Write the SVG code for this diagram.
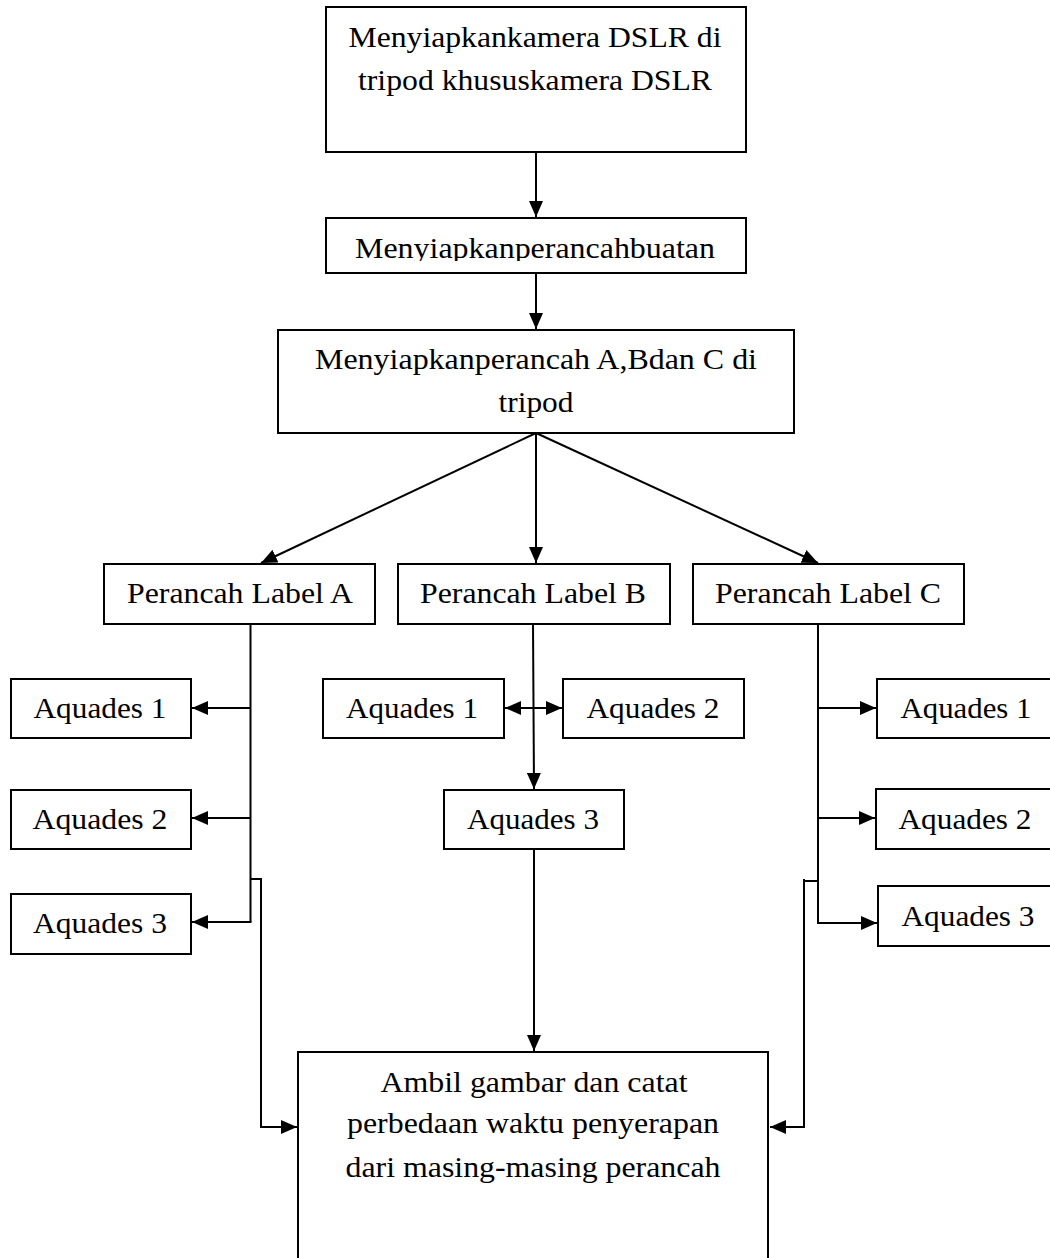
<svg xmlns="http://www.w3.org/2000/svg" width="1050" height="1258" viewBox="0 0 1050 1258" font-family="Liberation Serif, Times New Roman, serif">
<style>
.box{fill:#fff;stroke:#000;stroke-width:2}
.t{font-family:'Liberation Serif',Tinos,'Times New Roman',Times,serif;font-size:29px;fill:#000;text-anchor:middle}
.c{fill:none;stroke:#000;stroke-width:2}
</style>
<defs>
<marker id="ah" markerUnits="userSpaceOnUse" markerWidth="16" markerHeight="14" refX="16" refY="7" orient="auto">
<path d="M0,0 L16,7 L0,14 z" fill="#000"/>
</marker>
<clipPath id="clip2"><rect x="326" y="218" width="420" height="43"/></clipPath>
</defs>
<rect width="1050" height="1258" fill="#fff"/>
<g id="connectors">
<path class="c" d="M536,153 V217" marker-end="url(#ah)"/>
<path class="c" d="M536,273 V329" marker-end="url(#ah)"/>
<path class="c" d="M536,433 L261,563" marker-end="url(#ah)"/>
<path class="c" d="M536,433 V563" marker-end="url(#ah)"/>
<path class="c" d="M536,433 L818,563" marker-end="url(#ah)"/>
<path class="c" d="M250.5,624 V922"/>
<path class="c" d="M250.5,708 H192" marker-end="url(#ah)"/>
<path class="c" d="M250.5,818 H192" marker-end="url(#ah)"/>
<path class="c" d="M251.5,922 H192" marker-end="url(#ah)"/>
<path class="c" d="M250.5,879 H261 V1127 H297" marker-end="url(#ah)"/>
<path class="c" d="M533,624 L534,789" marker-end="url(#ah)"/>
<path class="c" d="M533,708 H505" marker-end="url(#ah)"/>
<path class="c" d="M533,708 H562" marker-end="url(#ah)"/>
<path class="c" d="M534,849 V1051" marker-end="url(#ah)"/>
<path class="c" d="M818,624 V923 H877" marker-end="url(#ah)"/>
<path class="c" d="M818,708 H876" marker-end="url(#ah)"/>
<path class="c" d="M818,818 H875" marker-end="url(#ah)"/>
<path class="c" d="M818,881 H804"/>
<path class="c" d="M804,879 V1127 H770" marker-end="url(#ah)"/>
</g>
<g id="n1">
<rect class="box" x="326" y="7" width="420" height="145"/>
<text class="t" x="535" y="47" textLength="373" lengthAdjust="spacingAndGlyphs">Menyiapkankamera DSLR di</text>
<text class="t" x="535" y="90" textLength="354" lengthAdjust="spacingAndGlyphs">tripod khususkamera DSLR</text>
</g>
<g id="n2">
<rect class="box" x="326" y="218" width="420" height="55"/>
<text class="t" x="535" y="258" textLength="360" lengthAdjust="spacingAndGlyphs" clip-path="url(#clip2)">Menyiapkanperancahbuatan</text>
</g>
<g id="n3">
<rect class="box" x="278" y="330" width="516" height="103"/>
<text class="t" x="536" y="369" textLength="442" lengthAdjust="spacingAndGlyphs">Menyiapkanperancah A,Bdan C di</text>
<text class="t" x="536" y="412" textLength="75" lengthAdjust="spacingAndGlyphs">tripod</text>
</g>
<g id="nA">
<rect class="box" x="104" y="564" width="271" height="60"/>
<text class="t" x="240" y="603" textLength="226" lengthAdjust="spacingAndGlyphs">Perancah Label A</text>
</g>
<g id="nB">
<rect class="box" x="398" y="564" width="272" height="60"/>
<text class="t" x="533" y="603" textLength="226" lengthAdjust="spacingAndGlyphs">Perancah Label B</text>
</g>
<g id="nC">
<rect class="box" x="693" y="564" width="271" height="60"/>
<text class="t" x="828" y="603" textLength="226" lengthAdjust="spacingAndGlyphs">Perancah Label C</text>
</g>
<g id="nA1">
<rect class="box" x="11" y="679" width="180" height="59"/>
<text class="t" x="100" y="718" textLength="133" lengthAdjust="spacingAndGlyphs">Aquades 1</text>
</g>
<g id="nA2">
<rect class="box" x="11" y="790" width="180" height="59"/>
<text class="t" x="100" y="829" textLength="135" lengthAdjust="spacingAndGlyphs">Aquades 2</text>
</g>
<g id="nA3">
<rect class="box" x="11" y="894" width="180" height="60"/>
<text class="t" x="100" y="933" textLength="134" lengthAdjust="spacingAndGlyphs">Aquades 3</text>
</g>
<g id="nB1">
<rect class="box" x="323" y="679" width="181" height="59"/>
<text class="t" x="412" y="718" textLength="132" lengthAdjust="spacingAndGlyphs">Aquades 1</text>
</g>
<g id="nB2">
<rect class="box" x="563" y="679" width="181" height="59"/>
<text class="t" x="653" y="718" textLength="133" lengthAdjust="spacingAndGlyphs">Aquades 2</text>
</g>
<g id="nB3">
<rect class="box" x="444" y="790" width="180" height="59"/>
<text class="t" x="533" y="829" textLength="132" lengthAdjust="spacingAndGlyphs">Aquades 3</text>
</g>
<g id="nC1">
<rect class="box" x="877" y="679" width="185" height="59"/>
<text class="t" x="966" y="718" textLength="131" lengthAdjust="spacingAndGlyphs">Aquades 1</text>
</g>
<g id="nC2">
<rect class="box" x="876" y="789" width="185" height="60"/>
<text class="t" x="965" y="829" textLength="133" lengthAdjust="spacingAndGlyphs">Aquades 2</text>
</g>
<g id="nC3">
<rect class="box" x="878" y="886" width="185" height="60"/>
<text class="t" x="968" y="926" textLength="133" lengthAdjust="spacingAndGlyphs">Aquades 3</text>
</g>
<g id="nEnd">
<rect class="box" x="298" y="1052" width="470" height="220"/>
<text class="t" x="534" y="1092" textLength="307" lengthAdjust="spacingAndGlyphs">Ambil gambar dan catat</text>
<text class="t" x="533" y="1133" textLength="372" lengthAdjust="spacingAndGlyphs">perbedaan waktu penyerapan</text>
<text class="t" x="533" y="1177" textLength="375" lengthAdjust="spacingAndGlyphs">dari masing-masing perancah</text>
</g>
</svg>
